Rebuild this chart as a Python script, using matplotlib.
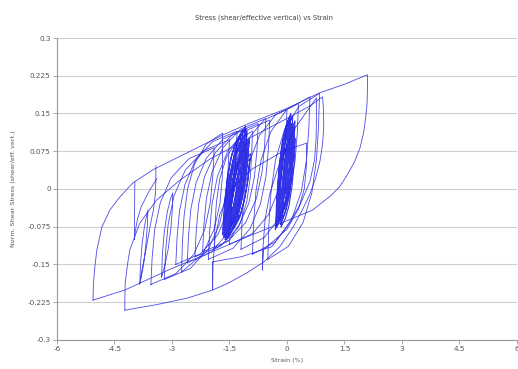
import numpy as np
import matplotlib
matplotlib.use("Agg")
import matplotlib.pyplot as plt

nan = np.nan

# ---- data (strain %, normalised shear stress), loops separated by nan ----
outer_strain = [-5.06, -5.05, -5.02, -4.96, -4.83, -4.62, -4.36, -4.02, -3.5, -2.6, -1.68, -0.97, 0.0, 0.85, 1.5, 2.1,
                2.1, 2.09, 2.05, 2.0, 1.9, 1.75, 1.55, 1.37, 1.15, 0.9, 0.67, 0.0, -1.0, -2.02, -3.0, -4.23, -5.06]
outer_stress = [-0.221, -0.19, -0.161, -0.121, -0.076, -0.042, -0.016, 0.012, 0.038, 0.072, 0.107, 0.131, 0.16, 0.191, 0.208, 0.227,
                0.2, 0.17, 0.14, 0.112, 0.08, 0.052, 0.025, 0.004, -0.013, -0.028, -0.042, -0.063, -0.094, -0.127, -0.158, -0.201, -0.221]

loopb_strain = [-4.23, -4.23, -4.22, -4.16, -4.1, -3.84, -3.4, -2.8, -2.0, -1.0, 0.0, 0.6, 0.93,
                0.95, 0.96, 0.93, 0.86, 0.75, 0.6, 0.4, 0.15, -0.19, -0.6, -1.05, -1.5, -1.94, -2.6, -3.4, -4.23]
loopb_stress = [-0.241, -0.215, -0.187, -0.15, -0.121, -0.068, -0.022, 0.017, 0.06, 0.1, 0.14, 0.165, 0.183,
                0.16, 0.125, 0.09, 0.055, 0.022, -0.01, -0.042, -0.077, -0.115, -0.145, -0.167, -0.186, -0.201, -0.217, -0.23, -0.241]

left_strain = [-3.97, -3.975, -3.98, -3.96, -3.9, -3.8, -3.6, -3.4, nan,
               -3.42, -3.42, -3.43, -3.48, -3.56, -3.63, -3.7, -3.78, -3.84,
               -3.82, -3.78, -3.72, -3.66, -3.63, -3.64, -3.68, -3.74, -3.8, -3.84, nan,
               -3.27, -3.25, -3.2, -3.12, -3.04, -2.98, -2.99, -3.03, -3.1, -3.18, -3.27, nan,
               -3.55, -3.517, -3.451, -3.303, -3.022, -2.56, -1.9, -1.933, -1.999, -2.148, -2.428, -2.89, -3.55, nan,
               -3.2, -3.166, -3.098, -2.945, -2.656, -2.18, -1.5, -1.534, -1.602, -1.755, -2.044, -2.52, -3.2]
left_stress = [0.014, -0.04, -0.101, -0.085, -0.06, -0.035, -0.005, 0.02, nan,
               0.046, 0.02, -0.008, -0.04, -0.07, -0.1, -0.13, -0.16, -0.187,
               -0.15, -0.11, -0.075, -0.052, -0.042, -0.07, -0.11, -0.15, -0.175, -0.19, nan,
               -0.175, -0.13, -0.085, -0.045, -0.02, -0.008, -0.04, -0.08, -0.12, -0.15, -0.175, nan,
               -0.19, -0.136, -0.081, -0.027, 0.022, 0.060, 0.082, 0.028, -0.027, -0.081, -0.13, -0.168, -0.19, nan,
               -0.18, -0.124, -0.069, -0.013, 0.037, 0.076, 0.098, 0.042, -0.013, -0.069, -0.119, -0.158, -0.18]

fan_strain = [-2.9, -2.868, -2.804, -2.66, -2.388, -1.94, -1.3, -1.332, -1.396, -1.54, -1.812, -2.26, -2.9, nan,
              -2.6, -2.569, -2.507, -2.368, -2.104, -1.67, -1.05, -1.081, -1.143, -1.283, -1.546, -1.98, -2.6, nan,
              -2.4, -2.367, -2.301, -2.153, -1.872, -1.41, -0.75, -0.783, -0.849, -0.998, -1.278, -1.74, -2.4, nan,
              -2.2, -2.167, -2.101, -1.953, -1.672, -1.21, -0.55, -0.583, -0.649, -0.798, -1.078, -1.54, -2.2, nan,
              -2.05, -2.018, -1.954, -1.81, -1.538, -1.09, -0.45, -0.482, -0.546, -0.69, -0.962, -1.41, -2.05, nan,
              -1.9, -1.88, -1.84, -1.75, -1.58, -1.3, -0.9, -0.92, -0.96, -1.05, -1.22, -1.5, -1.9, nan,
              -2.75, -2.729, -2.686, -2.59, -2.408, -2.108, -1.68, -1.68, -1.69, -1.75, -1.9, -2.2, -2.75]
fan_stress = [-0.15, -0.097, -0.044, 0.009, 0.057, 0.094, 0.115, 0.062, 0.009, -0.044, -0.092, -0.129, -0.15, nan,
              -0.147, -0.094, -0.040, 0.013, 0.061, 0.099, 0.12, 0.067, 0.013, -0.04, -0.088, -0.126, -0.147, nan,
              -0.135, -0.082, -0.029, 0.024, 0.072, 0.109, 0.13, 0.077, 0.024, -0.029, -0.077, -0.114, -0.135, nan,
              -0.125, -0.072, -0.019, 0.034, 0.082, 0.119, 0.14, 0.087, 0.034, -0.019, -0.067, -0.104, -0.125, nan,
              -0.14, -0.085, -0.029, 0.026, 0.076, 0.115, 0.137, 0.082, 0.026, -0.029, -0.079, -0.118, -0.14, nan,
              -0.12, -0.073, -0.026, 0.021, 0.063, 0.096, 0.115, 0.068, 0.021, -0.026, -0.068, -0.101, -0.12, nan,
              -0.165, -0.110, -0.055, 0.001, 0.050, 0.089, 0.111, 0.064, 0.02, -0.03, -0.08, -0.13, -0.165]

core1_strain = [-1.62, -1.568, -1.49, -1.386, -1.256, -1.10, -1.152, -1.23, -1.334, -1.464, -1.62, nan,
                -1.58, -1.524, -1.44, -1.328, -1.188, -1.02, -1.076, -1.16, -1.272, -1.412, -1.58, nan,
                -1.66, -1.609, -1.533, -1.431, -1.303, -1.15, -1.201, -1.278, -1.38, -1.507, -1.66, nan,
                -1.55, -1.501, -1.428, -1.33, -1.207, -1.06, -1.109, -1.183, -1.28, -1.403, -1.55, nan,
                -1.60, -1.538, -1.445, -1.321, -1.166, -0.98, -1.042, -1.135, -1.259, -1.414, -1.60, nan,
                -1.52, -1.463, -1.378, -1.264, -1.121, -0.95, -1.007, -1.093, -1.207, -1.349, -1.52, nan,
                -1.68, -1.632, -1.56, -1.464, -1.344, -1.20, -1.248, -1.32, -1.416, -1.536, -1.68, nan,
                -1.57, -1.517, -1.438, -1.332, -1.199, -1.04, -1.093, -1.173, -1.279, -1.411, -1.57, nan,
                -1.50, -1.45, -1.375, -1.275, -1.15, -1.00, -1.05, -1.125, -1.225, -1.35, -1.50, nan,
                -1.64, -1.588, -1.51, -1.406, -1.276, -1.12, -1.172, -1.25, -1.354, -1.484, -1.64, nan,
                -1.54, -1.483, -1.398, -1.284, -1.141, -0.97, -1.027, -1.113, -1.227, -1.369, -1.54, nan,
                -1.59, -1.539, -1.463, -1.361, -1.233, -1.08, -1.131, -1.208, -1.31, -1.437, -1.59, nan,
                -1.61, -1.552, -1.465, -1.349, -1.204, -1.03, -1.088, -1.175, -1.291, -1.436, -1.61, nan,
                -1.56, -1.514, -1.445, -1.353, -1.238, -1.1, -1.146, -1.215, -1.307, -1.422, -1.56, nan,
                -1.65, -1.599, -1.523, -1.421, -1.293, -1.14, -1.191, -1.268, -1.37, -1.497, -1.65, nan,
                -1.53, -1.476, -1.395, -1.287, -1.152, -0.99, -1.044, -1.125, -1.233, -1.368, -1.53, nan,
                -1.6, -1.545, -1.463, -1.353, -1.215, -1.05, -1.105, -1.188, -1.298, -1.435, -1.6, nan,
                -1.58, -1.535, -1.468, -1.378, -1.265, -1.13, -1.175, -1.243, -1.333, -1.445, -1.58]
core1_stress = [-0.095, -0.035, 0.015, 0.057, 0.085, 0.105, 0.045, -0.005, -0.047, -0.075, -0.095, nan,
                -0.088, -0.034, 0.011, 0.049, 0.074, 0.092, 0.038, -0.007, -0.045, -0.070, -0.088, nan,
                -0.08, -0.021, 0.029, 0.070, 0.098, 0.118, 0.059, 0.009, -0.032, -0.060, -0.08, nan,
                -0.098, -0.045, 0.0, 0.037, 0.062, 0.080, 0.027, -0.018, -0.055, -0.080, -0.098, nan,
                -0.07, -0.019, 0.024, 0.059, 0.083, 0.10, 0.049, 0.007, -0.029, -0.053, -0.07, nan,
                -0.085, -0.039, 0.0, 0.033, 0.055, 0.070, 0.024, -0.015, -0.048, -0.070, -0.085, nan,
                -0.09, -0.03, 0.02, 0.062, 0.09, 0.11, 0.05, 0.0, -0.042, -0.07, -0.09, nan,
                -0.06, -0.008, 0.036, 0.073, 0.098, 0.115, 0.063, 0.019, -0.018, -0.043, -0.06, nan,
                -0.075, -0.027, 0.013, 0.047, 0.069, 0.085, 0.037, -0.003, -0.037, -0.059, -0.075, nan,
                -0.065, -0.017, 0.023, 0.057, 0.079, 0.095, 0.047, 0.007, -0.027, -0.049, -0.065, nan,
                -0.092, -0.046, -0.008, 0.024, 0.045, 0.060, 0.014, -0.024, -0.056, -0.077, -0.092, nan,
                -0.08, -0.019, 0.033, 0.076, 0.105, 0.125, 0.064, 0.012, -0.031, -0.06, -0.08, nan,
                -0.1, -0.048, -0.004, 0.033, 0.058, 0.075, 0.023, -0.021, -0.058, -0.083, -0.1, nan,
                -0.07, -0.013, 0.035, 0.074, 0.101, 0.12, 0.063, 0.016, -0.024, -0.051, -0.07, nan,
                -0.095, -0.040, 0.007, 0.046, 0.072, 0.09, 0.035, -0.012, -0.051, -0.077, -0.095, nan,
                -0.065, -0.017, 0.023, 0.057, 0.079, 0.095, 0.047, 0.007, -0.027, -0.049, -0.065, nan,
                -0.085, -0.027, 0.022, 0.063, 0.091, 0.11, 0.052, 0.003, -0.038, -0.066, -0.085, nan,
                -0.1, -0.049, -0.007, 0.029, 0.053, 0.07, 0.019, -0.024, -0.059, -0.083, -0.1]

core2_strain = [-0.22, -0.186, -0.135, -0.067, 0.018, 0.12, 0.086, 0.035, -0.033, -0.118, -0.22, nan,
                -0.18, -0.144, -0.09, -0.018, 0.072, 0.18, 0.144, 0.09, 0.018, -0.072, -0.18, nan,
                -0.28, -0.247, -0.198, -0.132, -0.049, 0.05, 0.017, -0.033, -0.099, -0.181, -0.28, nan,
                -0.15, -0.113, -0.058, 0.017, 0.109, 0.22, 0.183, 0.128, 0.054, -0.039, -0.15, nan,
                -0.25, -0.215, -0.163, -0.093, -0.005, 0.10, 0.065, 0.013, -0.058, -0.145, -0.25, nan,
                -0.12, -0.088, -0.04, 0.024, 0.104, 0.2, 0.168, 0.12, 0.056, -0.024, -0.12, nan,
                -0.30, -0.268, -0.22, -0.156, -0.076, 0.02, -0.012, -0.06, -0.124, -0.204, -0.30, nan,
                -0.20, -0.165, -0.113, -0.043, 0.045, 0.15, 0.115, 0.063, -0.008, -0.095, -0.20, nan,
                -0.24, -0.208, -0.16, -0.096, -0.016, 0.08, 0.048, 0.0, -0.064, -0.144, -0.24, nan,
                -0.16, -0.128, -0.08, -0.016, 0.064, 0.16, 0.128, 0.08, 0.016, -0.064, -0.16, nan,
                -0.26, -0.221, -0.163, -0.085, 0.013, 0.13, 0.091, 0.033, -0.046, -0.143, -0.26, nan,
                -0.14, -0.105, -0.053, 0.018, 0.105, 0.21, 0.175, 0.123, 0.053, -0.035, -0.14]
core2_stress = [-0.065, -0.007, 0.042, 0.083, 0.111, 0.13, 0.072, 0.023, -0.018, -0.046, -0.065, nan,
                -0.055, -0.004, 0.039, 0.074, 0.098, 0.115, 0.064, 0.022, -0.014, -0.038, -0.055, nan,
                -0.07, -0.007, 0.046, 0.090, 0.119, 0.14, 0.077, 0.025, -0.020, -0.049, -0.07, nan,
                -0.075, -0.023, 0.021, 0.058, 0.083, 0.10, 0.048, 0.004, -0.033, -0.058, -0.075, nan,
                -0.05, 0.01, 0.06, 0.102, 0.13, 0.15, 0.09, 0.04, -0.002, -0.03, -0.05, nan,
                -0.06, -0.005, 0.042, 0.081, 0.107, 0.125, 0.07, 0.023, -0.016, -0.042, -0.06, nan,
                -0.08, -0.02, 0.03, 0.072, 0.10, 0.12, 0.06, 0.01, -0.032, -0.06, -0.08, nan,
                -0.04, 0.016, 0.062, 0.101, 0.127, 0.145, 0.09, 0.043, 0.004, -0.022, -0.04, nan,
                -0.06, 0.0, 0.05, 0.092, 0.12, 0.14, 0.08, 0.03, -0.012, -0.04, -0.06, nan,
                -0.07, -0.012, 0.037, 0.078, 0.106, 0.125, 0.067, 0.018, -0.023, -0.051, -0.07, nan,
                -0.075, -0.020, 0.027, 0.066, 0.092, 0.11, 0.055, 0.008, -0.031, -0.057, -0.075, nan,
                -0.05, 0.006, 0.052, 0.091, 0.117, 0.135, 0.08, 0.033, -0.006, -0.032, -0.05]

right_strain = [-0.64, -0.62, -0.57, -0.45, -0.2, 0.2, 0.77, 0.77, 0.76, 0.72, 0.6, 0.35, 0.0, -0.4, -0.62, -0.64, nan,
                -1.94, -1.93, -1.88, -1.75, -1.45, -0.9, -0.1, 0.51, 0.51, 0.5, 0.45, 0.3, 0.0, -0.6, -1.2, -1.94, -1.94, nan,
                -1.2, -1.17, -1.11, -0.975, -0.72, -0.3, 0.3, 0.27, 0.21, 0.075, -0.18, -0.6, -1.2, nan,
                -0.9, -0.87, -0.81, -0.675, -0.42, 0.0, 0.6, 0.57, 0.51, 0.375, 0.12, -0.3, -0.9, nan,
                -1.5, -1.47, -1.41, -1.275, -1.02, -0.6, 0.0, -0.03, -0.09, -0.225, -0.48, -0.9, -1.5, nan,
                -0.5, -0.473, -0.419, -0.298, -0.068, 0.31, 0.85, 0.823, 0.769, 0.648, 0.418, 0.04, -0.5]
right_stress = [-0.161, -0.11, -0.06, -0.01, 0.05, 0.12, 0.181, 0.15, 0.10, 0.058, 0.015, -0.03, -0.075, -0.115, -0.12, -0.161, nan,
                -0.2, -0.15, -0.1, -0.05, 0.0, 0.04, 0.075, 0.091, 0.06, 0.038, 0.0, -0.04, -0.08, -0.12, -0.135, -0.145, -0.2, nan,
                -0.12, -0.062, -0.004, 0.054, 0.106, 0.147, 0.17, 0.112, 0.054, -0.004, -0.056, -0.097, -0.12, nan,
                -0.13, -0.067, -0.005, 0.058, 0.114, 0.158, 0.183, 0.12, 0.058, -0.005, -0.061, -0.105, -0.13, nan,
                -0.11, -0.056, -0.003, 0.051, 0.099, 0.137, 0.158, 0.104, 0.051, -0.003, -0.051, -0.089, -0.11, nan,
                -0.14, -0.074, -0.008, 0.058, 0.117, 0.164, 0.19, 0.124, 0.058, -0.008, -0.067, -0.114, -0.14]

x_ticks = [-6, -4.5, -3, -1.5, 0, 1.5, 3, 4.5, 6]
x_labels = ["-6", "-4.5", "-3", "-1.5", "0", "1.5", "3", "4.5", "6"]
y_ticks = [-0.3, -0.225, -0.15, -0.075, 0, 0.075, 0.15, 0.225, 0.3]
y_labels = ["-0.3", "-0.225", "-0.15", "-0.075", "0", "0.075", "0.15", "0.225", "0.3"]

# ---- figure ----
fig = plt.figure(figsize=(5.18, 3.69), dpi=100)
ax = fig.add_axes([0.110, 0.079, 0.888, 0.818])

line_kw = dict(color="#2b2be0", lw=0.6, alpha=0.85, solid_joinstyle="round")
groups = [(outer_strain, outer_stress), (loopb_strain, loopb_stress), (left_strain, left_stress),
          (fan_strain, fan_stress), (right_strain, right_stress)]
for gx, gy in groups:
    ax.plot(gx, gy, **line_kw)
for gx, gy in [(core1_strain, core1_stress), (core2_strain, core2_stress)]:
    ax.plot(gx, gy, color="#1f1fe6", lw=0.8, alpha=0.9, solid_joinstyle="round")

ax.set_xlim(-6, 6)
ax.set_ylim(-0.3, 0.3)
ax.set_xticks(x_ticks)
ax.set_xticklabels(x_labels)
ax.set_yticks(y_ticks)
ax.set_yticklabels(y_labels)
ax.yaxis.grid(True, color="#cfcfcf", lw=0.8)
ax.set_axisbelow(True)
for s in ("top", "right"):
    ax.spines[s].set_visible(False)
for s in ("left", "bottom"):
    ax.spines[s].set_color("#9a9a9a")
    ax.spines[s].set_linewidth(0.8)
ax.tick_params(axis="both", labelsize=5.2, colors="#9a9a9a", labelcolor="#555555", length=3, width=0.6, pad=1.5)

ax.set_xlabel("Strain (%)", fontsize=4.6, color="#555555", labelpad=4)
ax.set_ylabel("Norm. Shear Stress (shear/eff. vert.)", fontsize=4.6, color="#555555", labelpad=8)
fig.text(0.51, 0.951, "Stress (shear/effective vertical) vs Strain", fontsize=4.9, color="#444444", ha="center", va="center")

fig.savefig("out.png", dpi=100)
